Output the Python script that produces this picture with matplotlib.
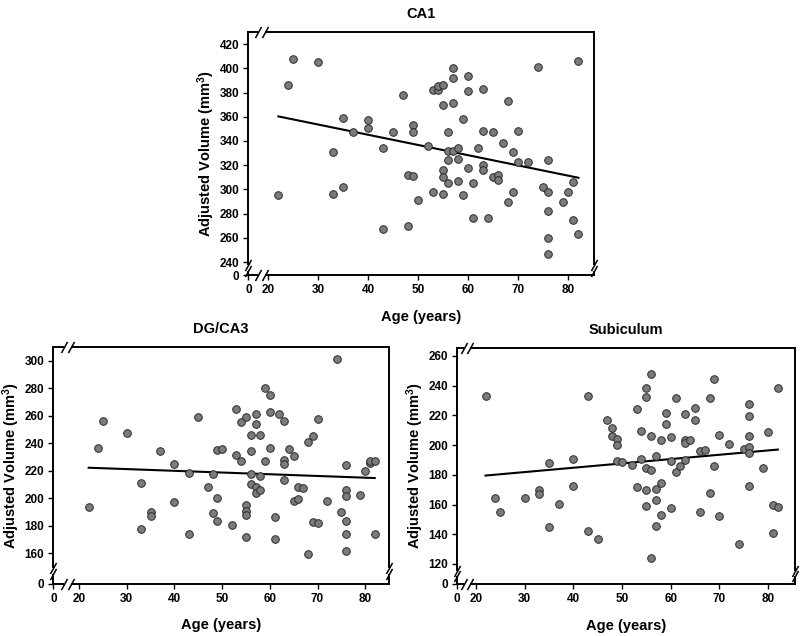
import matplotlib
matplotlib.use("Agg")
import matplotlib.pyplot as plt
import matplotlib.transforms as mtransforms
import numpy as np

plt.rcParams['font.family'] = ['Liberation Sans', 'DejaVu Sans']
plt.rcParams['font.weight'] = 'bold'
plt.rcParams['mathtext.fontset'] = 'custom'
plt.rcParams['mathtext.rm'] = 'Liberation Sans:bold'
plt.rcParams['mathtext.bf'] = 'Liberation Sans:bold'
plt.rcParams['mathtext.default'] = 'bf'

# ---------------- data ----------------
ca1_age = [22, 24, 25, 30, 33, 33, 35, 35, 37, 40, 40, 43, 43, 45, 47, 48, 48, 49, 49, 49,
           50, 52, 53, 53, 54, 54, 55, 55, 55, 55, 55, 56, 56, 56, 56, 57, 57, 57, 57, 58,
           58, 58, 59, 59, 60, 60, 60, 61, 61, 62, 63, 63, 63, 63, 64, 65, 65, 66, 66, 67,
           68, 68, 69, 69, 70, 70, 72, 74, 75, 76, 76, 76, 76, 76, 79, 80, 81, 81, 82, 82]
ca1_vol = [295, 386, 408, 405, 331, 296, 359, 302, 347, 357, 351, 334, 267, 347, 378, 312, 270, 353, 347, 311,
           291, 336, 298, 382, 382, 385, 386, 370, 316, 310, 296, 347, 332, 324, 305, 400, 392, 371, 332, 334,
           325, 307, 358, 295, 394, 381, 318, 305, 276, 334, 383, 348, 320, 316, 276, 347, 310, 312, 308, 338,
           373, 290, 331, 298, 348, 323, 323, 401, 302, 324, 298, 282, 260, 247, 290, 298, 306, 275, 406, 263]
ca1_fit_x = [22, 82]
ca1_fit_y = [360.3, 309.6]

dg_age = [22, 24, 25, 30, 33, 33, 35, 35, 37, 40, 40, 43, 43, 45, 47, 48, 48, 49, 49, 49,
          50, 52, 53, 53, 54, 54, 55, 55, 55, 55, 55, 56, 56, 56, 56, 57, 57, 57, 57, 58,
          58, 58, 59, 59, 60, 60, 60, 61, 61, 62, 63, 63, 63, 63, 64, 65, 65, 66, 66, 67,
          68, 68, 69, 69, 70, 70, 72, 74, 75, 76, 76, 76, 76, 76, 76, 79, 80, 81, 81, 82, 82]
dg_vol = [193.6, 236.3, 256.3, 247.9, 210.9, 177.4, 189.9, 187.5, 234.8, 225.2, 197.4, 218.4, 173.8, 259, 208.3,
          217.5, 189.5, 235.1, 200.3, 183.2, 235.8, 180.5, 265.2, 231.5, 255.3, 227.1, 259, 195.5, 190.9, 187.8,
          171.8, 246.2, 234.6, 217.9, 210.7, 261.6, 254.1, 208, 203.7, 246.2, 216.5, 205.9, 280.2, 227.3, 274.9,
          263.1, 236.3, 186.3, 170.4, 261.6, 256.6, 228.1, 224.9, 213.1, 236, 230.5, 198.1, 208.5, 199.6, 207.8,
          240.9, 159.3, 245.2, 182.9, 257.5, 182, 197.9, 301.2, 190.2, 224.2, 206.1, 201.5, 183.7, 173.8, 161.7,
          202.5, 219.9, 226.1, 227.1, 227.1, 174]
dg_fit_x = [22, 82]
dg_fit_y = [222.3, 214.8]

sub_age = [22, 24, 25, 30, 33, 33, 35, 35, 37, 40, 40, 43, 43, 45, 47, 48, 48, 49, 49, 49,
           50, 52, 53, 53, 54, 54, 55, 55, 55, 55, 55, 56, 56, 56, 56, 57, 57, 57, 57, 58,
           58, 58, 59, 59, 60, 60, 60, 61, 61, 62, 63, 63, 63, 63, 64, 65, 65, 66, 66, 67,
           68, 68, 69, 69, 70, 70, 72, 74, 75, 76, 76, 76, 76, 76, 76, 79, 80, 81, 81, 82, 82]
sub_vol = [232.9, 164.6, 155.2, 164.6, 169.6, 166.9, 187.8, 144.7, 160.2, 190.9, 172.5, 232.9, 142.2, 137.0, 217.1,
           211.5, 206.2, 204.1, 199.9, 189.5, 188.7, 186.4, 224.1, 172.0, 209.3, 190.4, 238.2, 232.4, 184.6, 169.6,
           159.0, 247.7, 206.4, 183.0, 124.3, 192.7, 170.5, 163.1, 145.8, 203.5, 174.3, 152.8, 221.6, 214.0, 205.5,
           189.1, 157.9, 232.0, 181.9, 185.7, 221.0, 203.5, 201.7, 190.0, 203.5, 224.8, 216.7, 196.1, 155.2, 196.7,
           232.0, 167.8, 244.5, 186.2, 207.0, 152.3, 200.5, 133.2, 197.2, 227.9, 219.8, 206.4, 198.7, 194.5, 172.7,
           184.4, 208.8, 159.7, 140.6, 238.5, 158.6]
sub_fit_x = [22, 82]
sub_fit_y = [179.5, 197.0]

x_ticks = [20, 30, 40, 50, 60, 70, 80]
ca1_yticks = [240, 260, 280, 300, 320, 340, 360, 380, 400, 420]
dg_yticks = [160, 180, 200, 220, 240, 260, 280, 300]
sub_yticks = [120, 140, 160, 180, 200, 220, 240, 260]

# ---------------- figure ----------------
fig = plt.figure(figsize=(8.0, 6.36), dpi=100)

panels = [
    dict(rect=[0.3104, 0.5676, 0.4321, 0.3821], title='CA1', age=ca1_age, vol=ca1_vol,
         fx=ca1_fit_x, fy=ca1_fit_y, yt=ca1_yticks, x0=16.0, xmax=85.1, y0=229.3, ymax=430.0,
         xb=18.7, yb=235.0),
    dict(rect=[0.0667, 0.0825, 0.4196, 0.3715], title='DG/CA3', age=dg_age, vol=dg_vol,
         fx=dg_fit_x, fy=dg_fit_y, yt=dg_yticks, x0=14.6, xmax=85.0, y0=138.0, ymax=310.0,
         xb=17.6, yb=147.0),
    dict(rect=[0.5716, 0.0818, 0.4220, 0.3706], title='Subiculum', age=sub_age, vol=sub_vol,
         fx=sub_fit_x, fy=sub_fit_y, yt=sub_yticks, x0=16.2, xmax=85.5, y0=106.5, ymax=265.2,
         xb=18.2, yb=113.5),
]

tick_fs = 8.5
label_fs = 10.5

for p in panels:
    ax = fig.add_axes(p['rect'])
    ax.set_xlim(p['x0'], p['xmax'])
    ax.set_ylim(p['y0'], p['ymax'])
    ax.plot(p['fx'], p['fy'], color='black', lw=1.5, zorder=2)
    ax.scatter(p['age'], p['vol'], s=30, facecolor='#7b7b7b', edgecolor='#2a2a2a',
               linewidths=0.7, zorder=3)

    ax.set_xticks([p['x0']] + x_ticks)
    ax.set_xticklabels(['0'] + [str(t) for t in x_ticks], fontsize=tick_fs, fontweight='bold')
    ax.set_yticks([p['y0']] + p['yt'])
    ax.set_yticklabels(['0'] + [str(t) for t in p['yt']], fontsize=tick_fs, fontweight='bold')
    ax.tick_params(direction='out', length=3.5, width=1.0, pad=3, top=False, right=False)

    for s in ax.spines.values():
        s.set_linewidth(1.4)
        s.set_color('black')

    ax.set_title(p['title'], fontsize=label_fs, fontweight='bold', pad=10)
    ax.set_xlabel('Age (years)', fontsize=label_fs, fontweight='bold', labelpad=10)
    ax.set_ylabel('Adjusted Volume (mm$^{3}$)', fontsize=label_fs, fontweight='bold', labelpad=1.5)

    # axis break marks
    tx = mtransforms.blended_transform_factory(ax.transData, ax.transAxes)
    ty = mtransforms.blended_transform_factory(ax.transAxes, ax.transData)
    mk = dict(marker=[(-0.55, -1), (0.55, 1)], markersize=8, linestyle='none',
              color='k', mec='k', mew=1.1, clip_on=False, zorder=5)
    dx = 0.7
    # x breaks on bottom and top spine
    for yy in (0, 1):
        ax.plot([p['xb'] - dx, p['xb'] + dx], [yy, yy], transform=tx, color='white',
                lw=3, clip_on=False, zorder=4, solid_capstyle='butt')
        ax.plot([p['xb'] - dx, p['xb'] + dx], [yy, yy], transform=tx, **mk)
    # y breaks on left and right spine
    dy = (p['ymax'] - p['y0']) * 0.012
    for xx in (0, 1):
        ax.plot([xx, xx], [p['yb'] - dy, p['yb'] + dy], transform=ty, color='white',
                lw=3, clip_on=False, zorder=4, solid_capstyle='butt')
        ax.plot([xx, xx], [p['yb'] - dy, p['yb'] + dy], transform=ty, **mk)

fig.savefig('out.png', dpi=100)
